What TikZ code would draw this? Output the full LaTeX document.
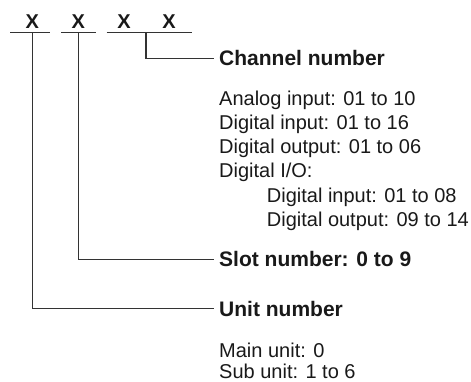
\documentclass[tikz,border=0pt]{standalone}
\usepackage{fontspec}
\setmainfont{Liberation Sans}
\begin{document}
\begin{tikzpicture}[x=1pt,y=-1pt,
  digit/.style={inner sep=0pt, anchor=base, font=\fontsize{20}{22}\selectfont\bfseries, text=black!90},
  title/.style={inner xsep=5pt, inner ysep=0pt, anchor=base west, font=\fontsize{21}{24}\selectfont\bfseries, text=black!90},
  body/.style={inner sep=0pt, anchor=base west, font=\fontsize{20}{24}\selectfont, text=black!90},
  wire/.style={draw=black!80, line width=1.1pt},
  uline/.style={draw=black!80, line width=1.3pt}]
\useasboundingbox (0,0) rectangle (471,382);
% digits
\node[digit] (x1) at (32.3,28.5) {X};
\node[digit] (x2) at (78.3,28.5) {X};
\node[digit] (x3) at (124,28.5) {X};
\node[digit] (x4) at (169,28.5) {X};
% underline coordinates
\coordinate (u1a) at (10,32.3);   \coordinate (u1b) at (50,32.3);
\coordinate (u2a) at (61,32.3);   \coordinate (u2b) at (95.7,32.3);
\coordinate (u3a) at (106.7,32.3);\coordinate (u3b) at (192,32.3);
\draw[uline] (u1a) -- (u1b);
\draw[uline] (u2a) -- (u2b);
\draw[uline] (u3a) -- (u3b);
% branch points
\coordinate (b1) at (32.3,32.3);
\coordinate (b2) at (78.3,32.3);
\coordinate (b3) at (146,32.3);
% titles
\node[title] (chan) at (214,65.7) {Channel number};
\node[title] (slot) at (214,266.7) {Slot number: 0 to 9};
\node[title] (unit) at (214,316) {Unit number};
% body text
\node[body] (c1) at (219,105.3) {Analog input: 01 to 10};
\node[body] (c2) at (219,129.5) {Digital input: 01 to 16};
\node[body] (c3) at (219,153.8) {Digital output: 01 to 06};
\node[body] (c4) at (219,178) {Digital I/O:};
\node[body] (c5) at (266.7,202.2) {Digital input: 01 to 08};
\node[body] (c6) at (266.7,226.4) {Digital output: 09 to 14};
\node[body] (m1) at (219,357) {Main unit: 0};
\node[body] (m2) at (219,378) {Sub unit: 1 to 6};
% connectors
\draw[wire] (b3) |- (chan.west);
\draw[wire] (b2) |- (slot.west);
\draw[wire] (b1) |- (unit.west);
\end{tikzpicture}
\end{document}
